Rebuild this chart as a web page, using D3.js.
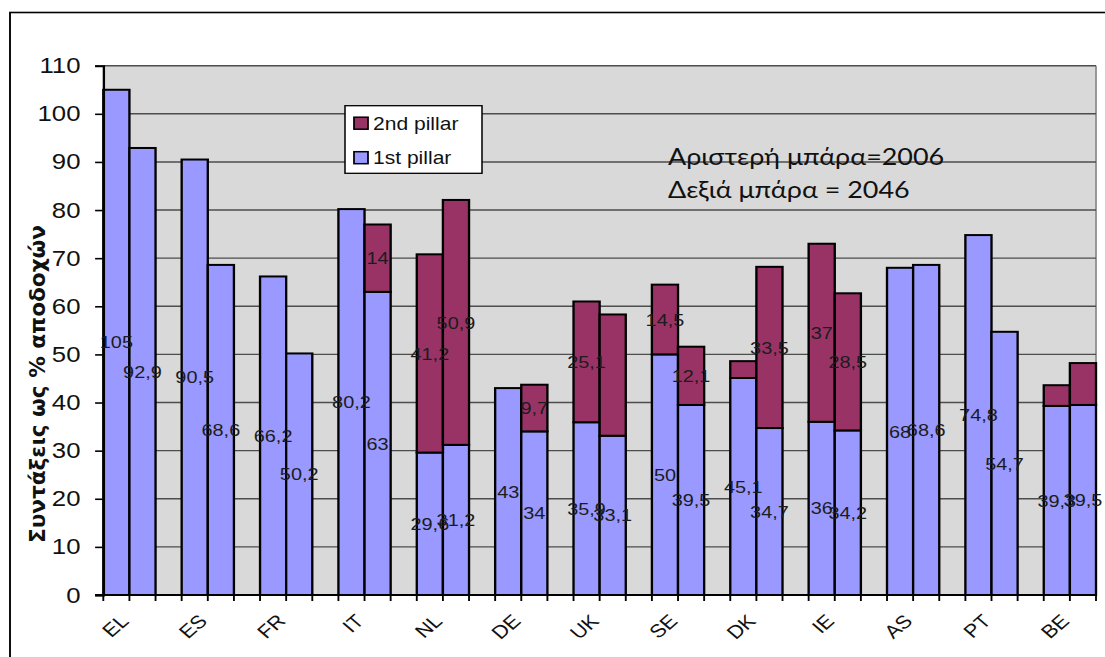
<!DOCTYPE html>
<html>
<head>
<meta charset="utf-8">
<script src="https://cdn.jsdelivr.net/npm/d3@7"></script>
<style>
  html, body { margin: 0; padding: 0; background: #ffffff; }
  svg { display: block; }
</style>
</head>
<body>
<svg id="chart" width="1105" height="657"></svg>
<script>
// Country codes, one group of two bars each (2006 on the left, 2046 on the right)
const countries = ["EL", "ES", "FR", "IT", "NL", "DE", "UK", "SE", "DK", "IE", "AS", "PT", "BE"];

// 1st pillar replacement rates (%)
const firstPillar2006 = [105, 90.5, 66.2, 80.2, 29.6, 43, 35.9, 50, 45.1, 36, 68, 74.8, 39.3];
const firstPillar2046 = [92.9, 68.6, 50.2, 63, 31.2, 34, 33.1, 39.5, 34.7, 34.2, 68.6, 54.7, 39.5];

// 2nd pillar replacement rates (%), 0 where there is none
const secondPillar2006 = [0, 0, 0, 0, 41.2, 0, 25.1, 14.5, 3.5, 37, 0, 0, 4.3];
const secondPillar2046 = [0, 0, 0, 14, 50.9, 9.7, 25.2, 12.1, 33.5, 28.5, 0, 0, 8.7];

// Which 2nd pillar values carry a data label
const secondLabel2006 = [false, false, false, false, true, false, true, true, false, true, false, false, false];
const secondLabel2046 = [false, false, false, true, true, true, false, true, true, true, false, false, false];

const yTicks = [0, 10, 20, 30, 40, 50, 60, 70, 80, 90, 100, 110];

const seriesNames = ["2nd pillar", "1st pillar"];
const noteLines = ["Αριστερή μπάρα=2006", "Δεξιά μπάρα = 2046"];
const yTitle = "Συντάξεις ως % αποδοχών";

// ---------------------------------------------------------------
const SX = 1.17;                 // horizontal stretch of the whole drawing
const W = 1105 / SX, H = 657;
const C1 = "#9999ff", C2 = "#993366";
const FONT = "'Liberation Sans', Arial, sans-serif";

const svg = d3.select("#chart");
const root = svg.append("g").attr("transform", `scale(${SX},1)`);

const plot = { left: 103.3 / SX, right: 1096 / SX, top: 65.7, bottom: 595 };

// slots: two bars per country followed by an empty gap (none after the last)
const slots = [];
countries.forEach((c, i) => {
  slots.push({ key: c + "-2006", country: c, first: firstPillar2006[i], second: secondPillar2006[i], showSecond: secondLabel2006[i], lead: true });
  slots.push({ key: c + "-2046", country: c, first: firstPillar2046[i], second: secondPillar2046[i], showSecond: secondLabel2046[i], lead: false });
  if (i < countries.length - 1) slots.push({ key: c + "-gap", country: c, gap: true });
});

const x = d3.scaleBand().domain(slots.map(d => d.key)).range([plot.left, plot.right]).padding(0);
const y = d3.scaleLinear().domain([0, 110]).range([plot.bottom, plot.top]);

// outer frame
root.append("rect")
  .attr("x", 10 / SX).attr("y", 12.5)
  .attr("width", W + 20).attr("height", H)
  .attr("fill", "none").attr("stroke", "#000").attr("stroke-width", 1.6);

// plot background
root.append("rect")
  .attr("x", plot.left).attr("y", plot.top)
  .attr("width", plot.right - plot.left).attr("height", plot.bottom - plot.top)
  .attr("fill", "#d9d9d9");
root.append("line")
  .attr("x1", plot.right).attr("x2", plot.right)
  .attr("y1", plot.top).attr("y2", plot.bottom)
  .attr("stroke", "#8c8c8c").attr("stroke-width", 1.5);

// gridlines
root.append("g").selectAll("line")
  .data(yTicks.filter(v => v > 0))
  .join("line")
  .attr("x1", plot.left).attr("x2", plot.right)
  .attr("y1", d => y(d)).attr("y2", d => y(d))
  .attr("stroke", "#4d4d4d").attr("stroke-width", 1.4);

// bars
const barSlots = slots.filter(d => !d.gap);
root.append("g").selectAll("rect")
  .data(barSlots)
  .join("rect")
  .attr("x", d => x(d.key)).attr("width", x.bandwidth())
  .attr("y", d => y(d.first)).attr("height", d => y(0) - y(d.first))
  .attr("fill", C1).attr("stroke", "#000").attr("stroke-width", 2);

root.append("g").selectAll("rect")
  .data(barSlots.filter(d => d.second > 0))
  .join("rect")
  .attr("x", d => x(d.key)).attr("width", x.bandwidth())
  .attr("y", d => y(d.first + d.second)).attr("height", d => y(d.first) - y(d.first + d.second))
  .attr("fill", C2).attr("stroke", "#000").attr("stroke-width", 2);

// y axis
const yAxis = root.append("g")
  .attr("transform", `translate(${plot.left},0)`)
  .call(d3.axisLeft(y).tickValues(yTicks).tickSize(7).tickPadding(12.5).tickFormat(d3.format("d")));
yAxis.select(".domain").attr("stroke", "#000").attr("stroke-width", 2);
yAxis.selectAll(".tick line").attr("stroke", "#000").attr("stroke-width", 1.6);
yAxis.selectAll(".tick text")
  .attr("font-family", FONT).attr("font-size", 22).attr("fill", "#111");

// x axis line and ticks at slot boundaries
root.append("line")
  .attr("x1", plot.left - 7).attr("x2", plot.right)
  .attr("y1", plot.bottom).attr("y2", plot.bottom)
  .attr("stroke", "#000").attr("stroke-width", 2);
const boundaries = slots.map(d => x(d.key)).concat([plot.right]);
root.append("g").selectAll("line")
  .data(boundaries)
  .join("line")
  .attr("x1", d => d).attr("x2", d => d)
  .attr("y1", plot.bottom).attr("y2", plot.bottom + 6)
  .attr("stroke", "#000").attr("stroke-width", 1.6);

// country labels, rotated
root.append("g").selectAll("text")
  .data(slots.filter(d => d.lead))
  .join("text")
  .attr("transform", d => `translate(${x(d.key) + x.bandwidth() / 2 + 2.5},${plot.bottom + 18}) rotate(-45)`)
  .attr("text-anchor", "end")
  .attr("dy", "0.7em")
  .attr("font-family", FONT).attr("font-size", 18.5).attr("fill", "#111")
  .text(d => d.country);

// data labels
const fmt = v => String(v).replace(".", ",");
const labels = root.append("g")
  .attr("font-family", FONT).attr("font-size", 17).attr("fill", "#1c1c1c")
  .attr("text-anchor", "middle");
labels.selectAll("text.first")
  .data(barSlots)
  .join("text").attr("class", "first")
  .attr("x", d => x(d.key) + x.bandwidth() / 2)
  .attr("y", d => y(d.first / 2))
  .attr("dy", "0.36em")
  .text(d => fmt(d.first));
labels.selectAll("text.second")
  .data(barSlots.filter(d => d.second > 0 && d.showSecond))
  .join("text").attr("class", "second")
  .attr("x", d => x(d.key) + x.bandwidth() / 2)
  .attr("y", d => y(d.first + d.second / 2))
  .attr("dy", "0.36em")
  .text(d => fmt(d.second));

// legend
const lg = root.append("g").attr("transform", `translate(${345 / SX},105.7)`);
lg.append("rect")
  .attr("width", 137 / SX).attr("height", 67.6)
  .attr("fill", "#fff").attr("stroke", "#000").attr("stroke-width", 1.3);
[C2, C1].forEach((c, i) => {
  lg.append("rect")
    .attr("x", 9 / SX).attr("y", 11.5 + i * 34.5)
    .attr("width", 14 / SX).attr("height", 12)
    .attr("fill", c).attr("stroke", "#000").attr("stroke-width", 1.5);
  lg.append("text")
    .attr("x", 28 / SX).attr("y", 24 + i * 34.5)
    .attr("font-family", FONT).attr("font-size", 18).attr("fill", "#111")
    .text(seriesNames[i]);
});

// year note
root.append("g").selectAll("text")
  .data(noteLines)
  .join("text")
  .attr("x", 668 / SX).attr("y", (d, i) => 165 + i * 33.3)
  .attr("font-family", "Lato, 'Open Sans', sans-serif").attr("font-size", 23).attr("fill", "#111")
  .text(d => d);

// y axis title
root.append("text")
  .attr("transform", `translate(${45 / SX},384) rotate(-90)`)
  .attr("text-anchor", "middle")
  .attr("font-family", "'DejaVu Sans', sans-serif").attr("font-weight", "bold")
  .attr("font-size", 18.5).attr("fill", "#111")
  .attr("textLength", 318).attr("lengthAdjust", "spacingAndGlyphs")
  .text(yTitle);
</script>
</body>
</html>
